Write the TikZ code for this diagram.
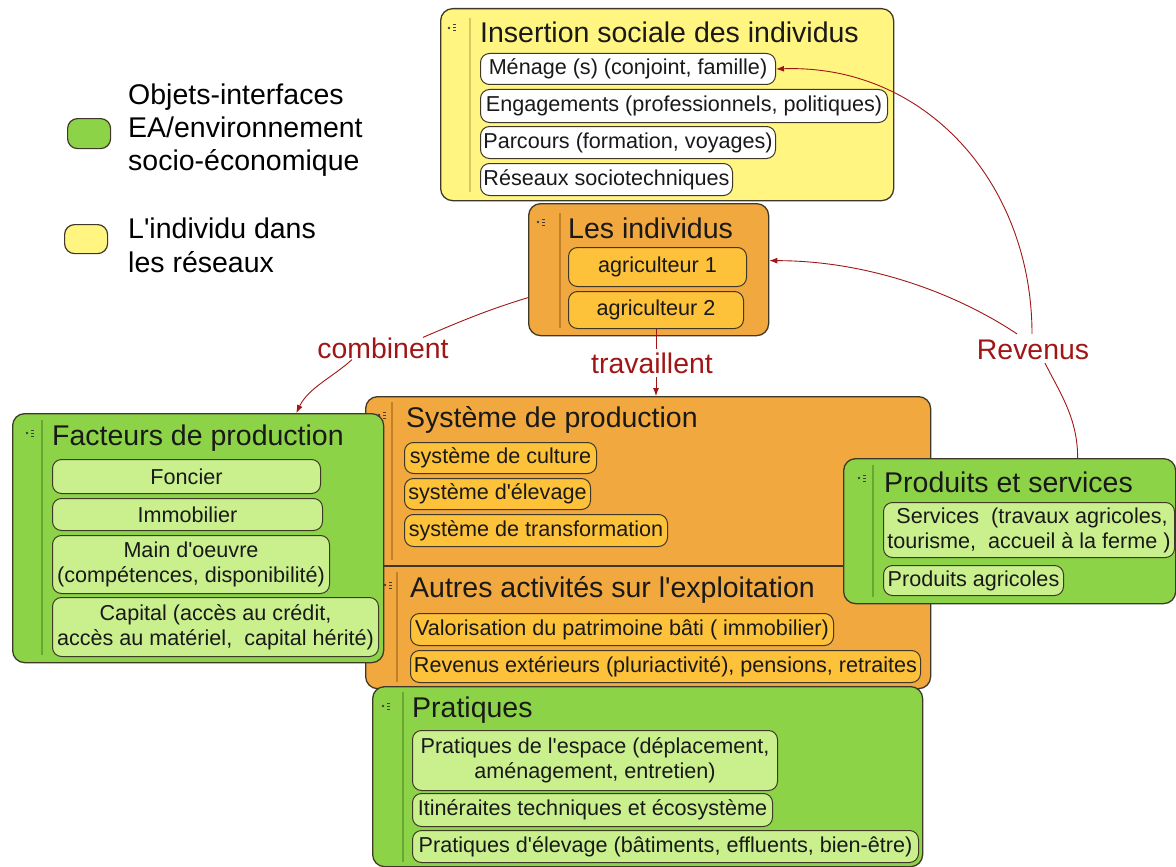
\documentclass[tikz,border=0pt]{standalone}
\usepackage{fontspec}
\setmainfont{Liberation Sans}
\usetikzlibrary{arrows.meta}
\definecolor{ybg}{RGB}{255,245,128}
\definecolor{obg}{RGB}{241,168,62}
\definecolor{oit}{RGB}{253,193,58}
\definecolor{gbg}{RGB}{141,211,72}
\definecolor{git}{RGB}{202,240,142}
\definecolor{bord}{RGB}{62,56,40}
\definecolor{ysd}{RGB}{214,200,100}
\definecolor{osd}{RGB}{196,128,40}
\definecolor{gsd}{RGB}{104,168,48}
\definecolor{rd}{RGB}{160,22,22}
\newcommand{\aq}{\textquotesingle}
\begin{document}
\begin{tikzpicture}[x=1pt,y=1pt,
  box/.style={draw=bord, line width=1.3pt, rounded corners=12pt, anchor=north west, inner sep=0pt},
  itm/.style={draw=bord, line width=1pt, rounded corners=9pt, anchor=north west, inner sep=1pt, font=\fontsize{21.6}{25}\selectfont, align=center, text=black!90},
  ttl/.style={anchor=west, inner sep=0pt, font=\fontsize{28.5}{32}\selectfont, text=black!90},
  lbl/.style={text=rd, font=\fontsize{28.4}{32}\selectfont, inner sep=3pt},
  rl/.style={draw=rd, line width=0.9pt},
  ra/.style={rl, -{Latex[length=8pt,width=6pt]}},
  side/.style={line width=1.2pt},
  ico/.pic={\fill[black!75] (-3,0) circle (1.3);
    \fill[black!75] (1,2.5) rectangle (4,3.5);
    \fill[black!75] (1,-0.5) rectangle (4,0.5);
    \fill[black!75] (1,-3.5) rectangle (4,-2.5);}
]
\useasboundingbox (0,0) rectangle (1176,-867);

% Legend
\node[draw=bord, fill=gbg, rounded corners=10pt, minimum width=43, minimum height=30, anchor=north west, line width=1.2pt, inner sep=0pt] (lg) at (67,-118) {};
\node[draw=bord, fill=ybg, rounded corners=10pt, minimum width=43, minimum height=29, anchor=north west, line width=1.2pt, inner sep=0pt] (ly) at (64,-224) {};
\node[anchor=west, align=left, font=\fontsize{28.5}{33}\selectfont, inner sep=0pt] (lgt) at (128,-130) {Objets-interfaces\\EA/environnement\\socio-économique};
\node[anchor=west, align=left, font=\fontsize{28.5}{34}\selectfont, inner sep=0pt] (lyt) at (128,-245) {L\aq individu dans\\les réseaux};

% Insertion sociale
\node[box, fill=ybg, minimum width=453, minimum height=192] (ins) at (440,-8) {};
\draw[side, draw=ysd] (470,-18) -- (470,-192);
\pic at (452,-28) {ico};
\node[ttl] (insT) at (480,-32) {Insertion sociale des individus};
\node[itm, fill=white, minimum width=295, minimum height=31] (men) at (480,-53) {Ménage (s) (conjoint, famille)};
\node[itm, fill=white, minimum width=407, minimum height=33] (eng) at (480,-89) {Engagements (professionnels, politiques)};
\node[itm, fill=white, minimum width=295, minimum height=32] (par) at (480,-126) {Parcours (formation, voyages)};
\node[itm, fill=white, minimum width=252, minimum height=32] (res) at (480,-163) {Réseaux sociotechniques};

% Les individus
\node[box, fill=obg, minimum width=240, minimum height=132] (indiv) at (528,-203) {};
\draw[side, draw=osd] (560,-213) -- (560,-328);
\pic at (541,-222) {ico};
\node[ttl] (indT) at (568,-228) {Les individus};
\node[itm, fill=oit, minimum width=178, minimum height=39] (agr1) at (568,-247) {agriculteur 1};
\node[itm, fill=oit, minimum width=175, minimum height=37] (agr2) at (568,-291) {agriculteur 2};

% Systeme de production
\node[box, fill=obg, minimum width=565, minimum height=292] (sys) at (365,-396) {};
\draw[line width=1.2pt, draw=bord] (365,-566) -- (930,-566);
\draw[side, draw=osd] (392,-402) -- (392,-560);
\draw[side, draw=osd] (397,-572) -- (397,-682);
\pic at (382,-415) {ico};
\pic at (388,-585) {ico};
\node[ttl] (sysT) at (406,-420) {Système de production};
\node[itm, fill=oit, minimum width=192, minimum height=31] (cul) at (404,-442) {système de culture};
\node[itm, fill=oit, minimum width=186, minimum height=31] (ele) at (404,-478) {système d\aq élevage};
\node[itm, fill=oit, minimum width=263, minimum height=32] (tra) at (404,-514) {système de transformation};
\node[ttl] (autT) at (410,-590) {Autres activités sur l\aq exploitation};
\node[itm, fill=oit, minimum width=423, minimum height=32] (val) at (410,-613) {Valorisation du patrimoine bâti ( immobilier)};
\node[itm, fill=oit, minimum width=510, minimum height=32] (rext) at (410,-650) {Revenus extérieurs (pluriactivité), pensions, retraites};

% Facteurs de production
\node[box, fill=gbg, minimum width=371, minimum height=249] (fact) at (12,-413) {};
\draw[side, draw=gsd] (42,-420) -- (42,-655);
\pic at (30,-433) {ico};
\node[ttl] (facT) at (52,-438) {Facteurs de production};
\node[itm, fill=git, minimum width=268, minimum height=34] (fon) at (52,-459) {Foncier};
\node[itm, fill=git, minimum width=270, minimum height=32] (imm) at (52,-498) {Immobilier};
\node[itm, fill=git, minimum width=277, minimum height=58] (mai) at (52,-535) {Main d\aq oeuvre\\(compétences, disponibilité)};
\node[itm, fill=git, minimum width=326, minimum height=59] (cap) at (52,-597) {Capital (accès au crédit,\\accès au matériel,~ capital hérité)};

% Produits et services
\node[box, fill=gbg, minimum width=332, minimum height=145] (prod) at (843,-458) {};
\draw[side, draw=gsd] (873,-465) -- (873,-597);
\pic at (862,-478) {ico};
\node[ttl] (proT) at (884,-482) {Produits et services};
\node[itm, fill=git, minimum width=291, minimum height=55] (ser) at (883,-502) {~Services~ (travaux agricoles,\\tourisme,~ accueil à la ferme )};
\node[itm, fill=git, minimum width=180, minimum height=30] (pag) at (883,-565) {Produits agricoles};

% Pratiques
\node[box, fill=gbg, minimum width=550, minimum height=180] (prat) at (372,-686) {};
\draw[side, draw=gsd] (403,-692) -- (403,-862);
\pic at (386,-706) {ico};
\node[ttl] (praT) at (412,-710) {Pratiques};
\node[itm, fill=git, minimum width=365, minimum height=60] (esp) at (412,-730) {Pratiques de l\aq espace (déplacement,\\aménagement, entretien)};
\node[itm, fill=git, minimum width=360, minimum height=33] (iti) at (412,-793) {Itinéraites techniques et écosystème};
\node[itm, fill=git, minimum width=506, minimum height=32] (pel) at (412,-830) {Pratiques d\aq élevage (bâtiments, effluents, bien-être)};

% Connector labels
\node[lbl] (comb) at (383,-348) {combinent};
\node[lbl] (trav) at (652,-363) {travaillent};
\node[lbl] (rev) at (1033,-350) {Revenus};

% Connectors
\draw[rl] ([yshift=-28pt]indiv.west) .. controls +(-40,-12) and +(35,15) .. ([xshift=40pt,yshift=-3pt]comb.north);
\draw[ra] ([xshift=-31pt,yshift=2pt]comb.south) .. controls +(-20,-18) and +(12,25) .. ([xshift=-88pt]fact.north east);
\draw[rl] (agr2.south) -- (agr2.south |- trav.north);
\draw[ra] (agr2.south |- trav.south) -- (agr2.south |- sys.north);
\draw[rl] ([xshift=12pt]rev.south) .. controls +(15,-30) and +(0,40) .. ([xshift=68pt]prod.north);
\draw[ra] ([xshift=-1pt,yshift=3pt]rev.north) .. controls +(0,150) and +(150,5) .. (men.east);
\draw[ra] ([xshift=-16pt,yshift=3pt]rev.north) .. controls +(-60,40) and +(100,0) .. ([yshift=9pt]indiv.east);
\end{tikzpicture}
\end{document}
